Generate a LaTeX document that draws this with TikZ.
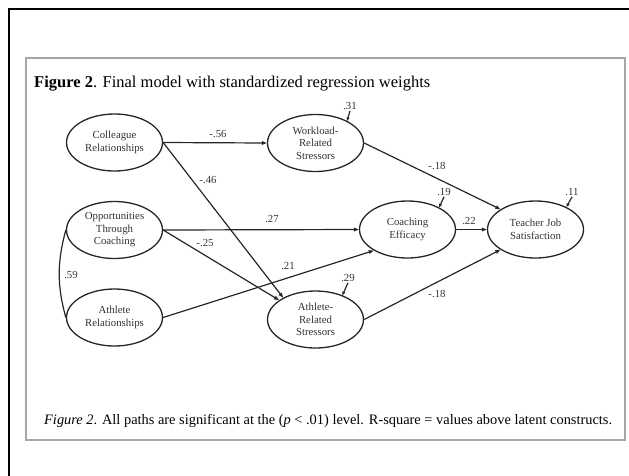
\documentclass[tikz,border=0pt]{standalone}
\usepackage{fontspec}
\setmainfont{Liberation Serif}
\usetikzlibrary{shapes.geometric,arrows.meta}

\begin{document}
\begin{tikzpicture}[x=1pt,y=-1pt,
  latent/.style={ellipse,draw=black!85,line width=1.3pt,minimum width=96pt,minimum height=57pt,inner sep=0pt,align=center,text=black!80,font=\fontsize{10.8}{12.5}\selectfont},
  regpath/.style={draw=black!85,line width=1.2pt,-{Triangle[length=5pt,width=3.6pt]}},
  errpath/.style={draw=black!85,line width=1.2pt,-{Triangle[length=3.5pt,width=3pt]}},
  wt/.style={text=black!80,inner sep=1pt,font=\fontsize{10.8}{12}\selectfont}]
\useasboundingbox (0,0) rectangle (629,475);
\draw[line width=2.5pt] (9,476) -- (9,9) -- (630,9);
\draw[black!35,line width=1.2pt] (26,58) rectangle (625,440);
\node[anchor=west,inner sep=0pt,font=\fontsize{16.5}{18}\selectfont] (title) at (34,84) {\textbf{Figure 2}. Final model with standardized regression weights};
\node[latent] (colrel) at (114.5,142.5) {Colleague\\Relationships};
\node[latent] (opp) at (114.5,230) {Opportunities\\Through\\Coaching};
\node[latent] (athrel) at (114.5,317.5) {Athlete\\Relationships};
\node[latent] (work) at (315.5,143) {Workload-\\Related\\Stressors};
\node[latent] (coach) at (407.5,229.5) {Coaching\\Efficacy};
\node[latent] (athstr) at (315.5,319.5) {Athlete-\\Related\\Stressors};
\node[latent] (tjs) at (535.5,229.5) {Teacher Job\\Satisfaction};
\draw[regpath] (colrel.east) -- (work.west);
\draw[regpath] (colrel.east) -- (athstr.146);
\draw[regpath] (opp.east) -- (coach.west);
\draw[regpath] (opp.east) -- (athstr.152);
\draw[regpath] (athrel.east) -- (coach.212);
\draw[regpath] (work.east) -- (tjs.150);
\draw[regpath] (coach.east) -- (tjs.west);
\draw[regpath] (athstr.east) -- (tjs.210);
\draw[draw=black!85,line width=1.2pt] (opp.west) .. controls (57,262) and (57,286) .. (athrel.west);
\node[wt] (w1) at (218,134) {-.56};
\node[wt] (w2) at (208,180) {-.46};
\node[wt] (w3) at (272,219) {.27};
\node[wt] (w4) at (205,243) {-.25};
\node[wt] (w5) at (288,266) {.21};
\node[wt] (w6) at (71,275) {.59};
\node[wt] (w7) at (437,166) {-.18};
\node[wt] (w8) at (469,221) {.22};
\node[wt] (w9) at (437,294) {-.18};
\node[wt] (r1) at (350,106) {.31};
\node[wt] (r2) at (444,192) {.19};
\node[wt] (r3) at (572,192) {.11};
\node[wt] (r4) at (348,278) {.29};
\draw[errpath] (r1.south) -- (work.35);
\draw[errpath] (r2.south) -- (coach.35);
\draw[errpath] (r3.south) -- (tjs.36);
\draw[errpath] (r4.south) -- (athstr.42);
\node[anchor=west,inner sep=0pt,font=\fontsize{14.4}{16}\selectfont] (note) at (44,421) {\textit{Figure 2}. All paths are significant at the (\textit{p} < .01) level. R-square = values above latent constructs.};
\end{tikzpicture}
\end{document}
